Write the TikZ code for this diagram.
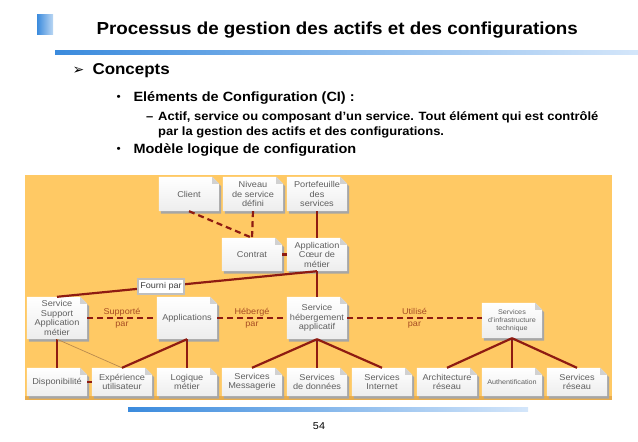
\documentclass[tikz,border=0pt]{standalone}
\usepackage{fontspec}
\setmainfont{Liberation Sans}[FakeStretch=1.08]
\newfontfamily\symfont{DejaVu Sans}
\usepackage{tikz}
\usetikzlibrary{calc,backgrounds}
\definecolor{panel}{HTML}{FFC964}
\definecolor{panelrim}{HTML}{E8AC4C}
\definecolor{link}{HTML}{8E1B12}
\definecolor{linklbl}{HTML}{A64B22}
\definecolor{tanline}{HTML}{B98A4E}
\definecolor{cibar}{HTML}{3B8BDD}
\definecolor{cibarlight}{HTML}{D4E6FA}
\definecolor{citext}{HTML}{606060}

\begin{document}
\begin{tikzpicture}[x=1pt,y=-1pt,
ci/.style={minimum width=60pt,minimum height=#1,inner sep=1pt,align=center,
  font=\fontsize{8.5}{9.5}\selectfont,text=citext},
ci/.default=28pt,
small/.style={font=\fontsize{6.7}{8.2}\selectfont},
rel/.style={link,line width=2.2pt},
relopt/.style={rel,dash pattern=on 6pt off 4pt},
relname/.style={align=center,inner sep=0pt,text=linklbl,font=\fontsize{8.4}{12}\selectfont},
lbl/.style={draw=black!25,fill=white,inner sep=2pt,minimum height=15pt,
  font=\fontsize{8.4}{9}\selectfont,text=black!75},
head/.style={anchor=west,align=left}]
\useasboundingbox (0,0) rectangle (638,442);
% slide header
\shade[left color=cibar,right color=cibar!35] (37,14) rectangle (53,34);
\node[head,font=\fontsize{17.4}{20}\selectfont\bfseries] (title) at (93,30)
 {Processus de gestion des actifs et des configurations};
\shade[left color=cibar,right color=cibarlight] (55,50) rectangle (638,54);
\node[head,font=\symfont\fontsize{14}{16}\selectfont] (arrow) at (69,71) {➢};
\node[head,font=\fontsize{15.7}{18}\selectfont\bfseries] (concepts) at (89,71) {Concepts};
\node[head,font=\fontsize{11}{12}\selectfont] (dot1) at (113,98) {•};
\node[head,font=\fontsize{13.4}{15}\selectfont\bfseries] (elements) at (130,98)
 {Eléments de Configuration (CI) :};
\node[head,anchor=north west,inner sep=0pt,font=\fontsize{12}{15}\selectfont\bfseries] (definition) at (146,111)
 {\makebox[12pt][l]{–}Actif, service ou composant d'un service. Tout élément qui est contrôlé\\
  \hspace*{12pt}par la gestion des actifs et des configurations.};
\node[head,font=\fontsize{11}{12}\selectfont] (dot2) at (113,150) {•};
\node[head,font=\fontsize{13.4}{15}\selectfont\bfseries] (modele) at (130,150)
 {Modèle logique de configuration};

% configuration items
\node[ci=34pt] (client) at (189,194) {Client};
\node[ci=34pt] (niveau) at (253,194) {Niveau\\de service\\défini};
\node[ci=34pt] (portef) at (317,194) {Portefeuille\\des\\services};
\node[ci=33pt] (contrat) at (252,254.5) {Contrat};
\node[ci=33pt] (appli) at (317,254.5) {Application\\Cœur de\\métier};
\node[ci=42pt] (supp) at (57,318) {Service\\Support\\Application\\métier};
\node[ci=42pt] (applis) at (187,318) {Applications};
\node[ci=42pt] (heberg) at (317,318) {Service\\hébergement\\applicatif};
\node[ci=35pt,small] (infra) at (512,320.5)
 {Services\\d'infrastructure\\technique};
\node[ci] (dispo) at (57,382) {Disponibilité};
\node[ci] (exper) at (122,382) {Expérience\\utilisateur};
\node[ci] (logique) at (187,382) {Logique\\métier};
\node[ci] (messag) at (252,382) {Services\\Messagerie};
\node[ci] (donnees) at (317,382) {Services\\de données};
\node[ci] (internet) at (382,382) {Services\\Internet};
\node[ci] (archi) at (447,382) {Architecture\\réseau};
\node[ci,small] (authent) at (512,382) {Authentification};
\node[ci] (reseau) at (577,382) {Services\\réseau};

% relations
\draw[relopt] (client.south) -- (contrat.north);
\draw[relopt] (niveau.south) -- (contrat.north);
\draw[rel] (portef) -- (appli);
\draw[rel] (contrat) -- (appli);
\draw[rel] (appli) -- (heberg);
\draw[rel] (supp.north) -- node[lbl,pos=.4] (fourni) {Fourni par} (appli.south);
\draw[relopt] (supp) -- node[relname] {Supporté\\par} (applis);
\draw[relopt] (applis) -- node[relname] {Hébergé\\par} (heberg);
\draw[relopt] (heberg.east) -- node[relname] {Utilisé\\par} (heberg.east -| infra.west);
\draw[rel] (supp) -- (dispo);
\draw[tanline,line width=0.7pt] (supp.south) -- (exper.north);
\draw[rel] (dispo) -- (exper);
\draw[rel] (applis.south) -- (exper.north);
\draw[rel] (applis) -- (logique);
\foreach \t in {messag,donnees,internet} \draw[rel] (heberg.south) -- (\t.north);
\foreach \t in {archi,authent,reseau} \draw[rel] (infra.south) -- (\t.north);

% panel and item cards behind everything
\begin{scope}[on background layer]
\fill[panel] (25,175) rectangle (612,400);
\fill[panelrim] (25,396) rectangle (612,400);
\foreach \n in {client,niveau,portef,contrat,appli,supp,applis,heberg,infra,
  dispo,exper,logique,messag,donnees,internet,archi,authent,reseau}{
  \fill[black!35] ($(\n.south west)+(2,2.5)$) -- ($(\n.north west)+(2,2.5)$)
   -- ($(\n.north east)+(-5,2.5)$) -- ($(\n.north east)+(2,9.5)$)
   -- ($(\n.south east)+(2,2.5)$) -- cycle;
  \shade[top color=white,bottom color=black!7] (\n.south west) -- (\n.north west)
   -- ($(\n.north east)+(-7,0)$) -- ($(\n.north east)+(0,7)$) -- (\n.south east) -- cycle;
  \fill[black!18] ($(\n.north east)+(-7,0)$) -- ($(\n.north east)+(-7,7)$)
   -- ($(\n.north east)+(0,7)$) -- cycle;
}
\end{scope}

% footer
\shade[left color=cibar,right color=cibarlight] (128,407) rectangle (528,411);
\node[font=\fontsize{10}{12}\selectfont] (page) at (319,426) {54};
\end{tikzpicture}
\end{document}
